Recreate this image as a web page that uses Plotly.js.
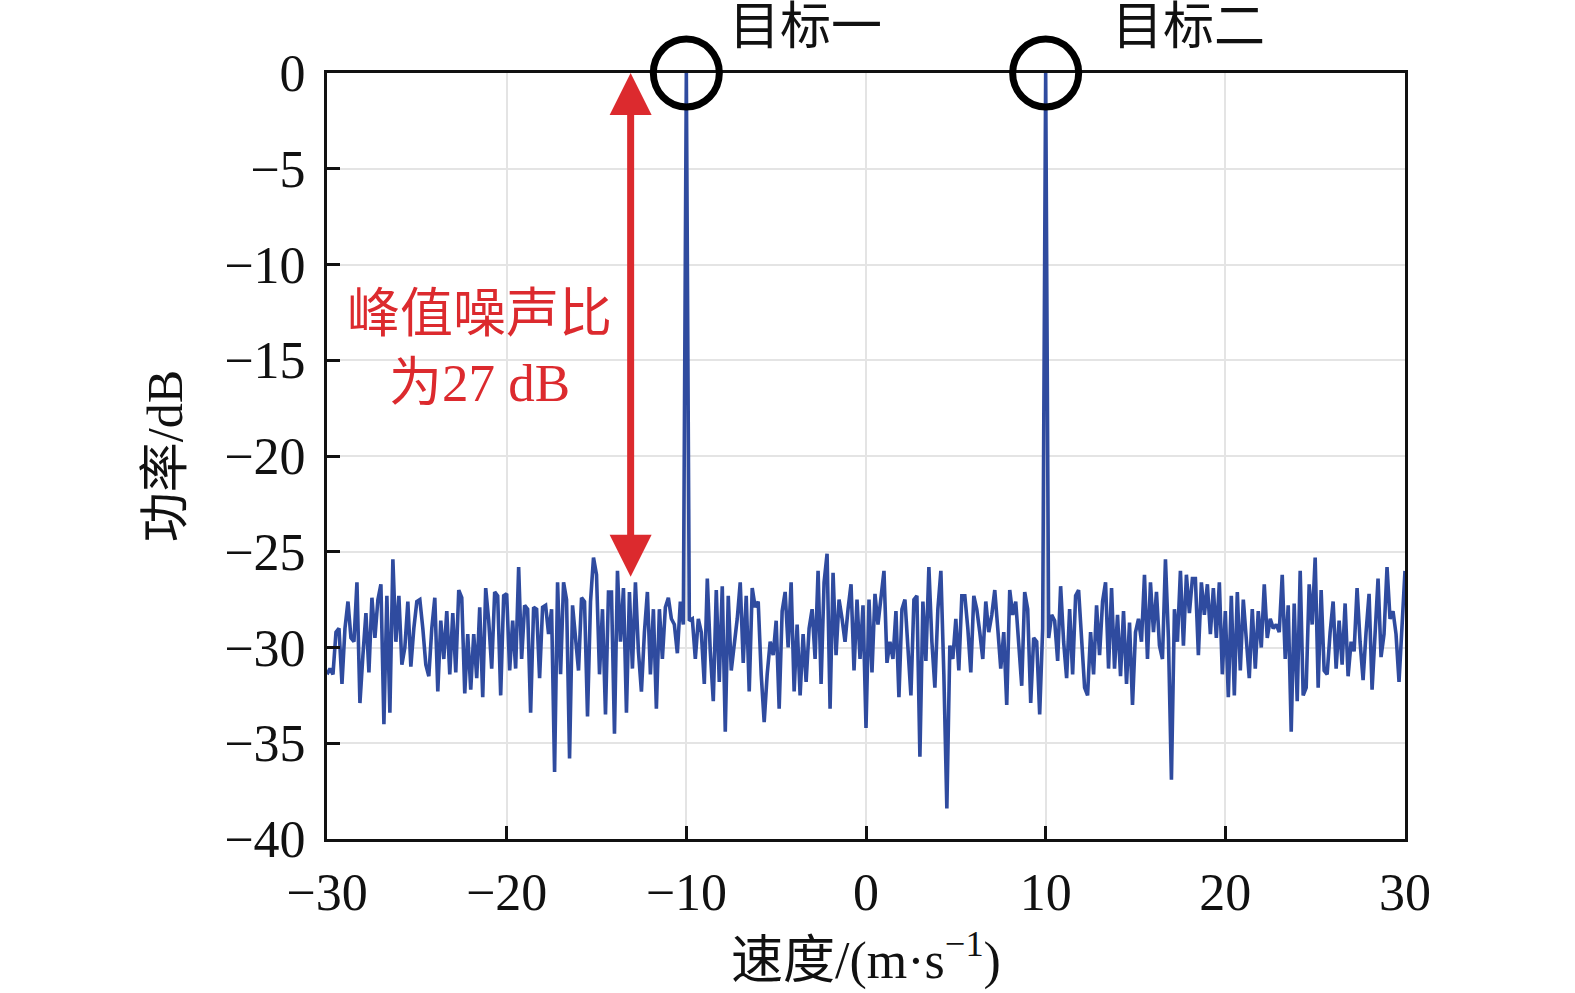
<!DOCTYPE html>
<html>
<head>
<meta charset="utf-8">
<script src="https://cdn.plot.ly/plotly-3.0.1.min.js"></script>
<style>
  body { margin: 0; background: #fff; }
  #tgtDraw { width: 1575px; height: 993px; }
</style>
</head>
<body>
<div id="tgtDraw"></div>
<script>
// velocity bins: -30 .. 30 m/s, 1/6 m/s apart
var vel_start = -30;
var vel_step = 1 / 6;

// power in dB
// -30 .. -10.17 m/s
var pwr_seg1 = [
  -31.4, -31.1, -31.4, -29.2, -29.0, -31.9, -29.0, -27.6, -29.5, -29.7,
  -26.6, -32.9, -30.4, -28.2, -31.3, -27.4, -29.5, -27.5, -26.7, -34.0,
  -27.3, -33.4, -25.4, -29.7, -27.3, -30.9, -30.0, -27.6, -31.0, -29.0,
  -27.6, -27.5, -29.0, -30.9, -31.5, -29.0, -27.4, -32.3, -28.6, -30.6,
  -28.1, -31.4, -28.2, -31.3, -27.0, -27.4, -32.4, -29.3, -32.2, -29.3,
  -31.6, -27.9, -32.6, -26.9, -28.6, -31.1, -27.1, -27.3, -32.5, -27.3,
  -27.2, -31.2, -28.6, -31.1, -25.8, -30.6, -27.8, -28.0, -33.4, -27.9,
  -28.0, -31.6, -27.9, -27.8, -29.3, -28.0, -36.5, -26.6, -31.4, -26.6,
  -27.5, -35.8, -27.8, -29.7, -31.2, -27.4, -27.6, -33.6, -27.6, -25.3,
  -26.2, -31.4, -28.0, -33.5, -27.1, -27.1, -34.5, -26.0, -29.7, -26.9,
  -33.4, -27.1, -31.1, -26.6, -30.2, -32.3, -29.2, -27.1, -31.4, -28.0,
  -33.2, -28.0, -30.6, -27.9, -27.4, -28.5, -28.8, -30.3, -27.6, -28.8
];
// -9.83 .. 9.83 m/s
var pwr_seg2 = [
  -28.6, -28.5, -30.6, -28.5, -29.2, -31.9, -26.4, -30.2, -32.8, -27.0,
  -31.8, -26.8, -34.4, -27.3, -31.2, -29.9, -28.5, -26.6, -30.8, -27.3,
  -32.3, -26.9, -27.9, -27.6, -31.4, -33.9, -31.4, -29.7, -30.4, -28.6,
  -33.2, -28.1, -27.1, -30.0, -26.6, -32.3, -28.8, -32.5, -29.3, -31.8,
  -29.0, -28.0, -30.6, -26.0, -31.9, -26.6, -25.1, -33.2, -26.1, -30.4,
  -27.5, -28.5, -29.7, -28.0, -26.7, -31.2, -27.5, -30.6, -27.8, -34.2,
  -27.5, -31.3, -27.2, -28.8, -27.3, -26.0, -30.8, -29.7, -30.6, -28.1,
  -32.6, -28.0, -27.5, -30.0, -32.5, -27.5, -27.3, -35.7, -27.6, -30.7,
  -25.8, -29.7, -32.1, -28.0, -26.0, -31.4, -38.4, -29.9, -30.6, -28.5,
  -31.2, -27.3, -27.3, -29.0, -31.3, -27.3, -28.0, -29.2, -30.6, -27.6,
  -29.2, -28.3, -27.0, -29.0, -31.1, -29.2, -33.0, -27.0, -28.3, -27.6,
  -29.7, -32.0, -27.1, -28.0, -32.9, -29.5, -29.7, -33.5, -29.0
];
// 10.17 .. 30 m/s
var pwr_seg3 = [
  -29.5, -28.3, -28.6, -30.7, -26.8, -29.7, -31.6, -28.0, -31.4, -27.3,
  -27.0, -29.5, -32.1, -32.5, -29.2, -31.4, -27.8, -30.4, -27.6, -26.6,
  -31.1, -26.9, -31.1, -28.3, -31.5, -28.1, -31.9, -28.7, -33.0, -29.2,
  -28.5, -29.7, -26.2, -30.6, -26.6, -29.2, -27.1, -29.9, -30.6, -25.4,
  -29.5, -36.9, -28.0, -29.7, -26.0, -29.9, -26.2, -28.2, -26.4, -26.4,
  -30.4, -26.6, -28.3, -26.7, -29.3, -26.9, -29.5, -26.6, -31.4,
  -28.1, -32.6, -27.3, -32.5, -27.1, -31.2, -27.5, -29.7, -31.6, -28.0,
  -31.1, -28.1, -30.0, -26.7, -29.5, -28.5, -29.0, -28.8, -29.2, -26.2,
  -30.6, -27.8, -34.4, -27.7, -32.8, -26.0, -32.5, -32.1, -26.7, -28.8,
  -25.3, -32.1, -27.0, -31.2, -31.4, -29.2, -27.6, -31.1, -28.6, -30.9,
  -27.7, -31.5, -29.7, -30.2, -26.9, -29.7, -31.7, -29.2, -27.2, -32.2,
  -28.8, -26.4, -30.5, -29.3, -25.8, -28.5, -28.1, -29.3, -31.8, -29.2, -26.0
];

// the two targets
var target_names = ["目标一", "目标二"];
var target_vel = [-10, 10];
var target_dB = [0, 0];

// peak-to-noise arrow
var snr_vel = -13.1;
var snr_top = 0;
var snr_bottom = -26.3;
var snr_text = "峰值噪声比<br>为27 dB";

var x_ticks = [-30, -20, -10, 0, 10, 20, 30];
var y_ticks = [0, -5, -10, -15, -20, -25, -30, -35, -40];

var FONT = "Liberation Serif, Times New Roman, Noto Sans CJK SC, serif";
var BLUE = "#2f4b9f";
var RED = "#dc2a2e";

function build_series()
{
	var pwr = pwr_seg1.concat([target_dB[0]], pwr_seg2, [target_dB[1]], pwr_seg3);
	var vel = [];
	for (var i = 0; i < pwr.length; i++) {
		vel.push(Math.round((vel_start + i * vel_step) * 1000) / 1000);
	}
	return {x: vel, y: pwr};
}

function draw_chart()
{
	var s = build_series();
	var trace1 = {
		x: s.x,
		y: s.y,
		type: 'scatter',
		mode: 'lines',
		line: {color: BLUE, width: 3.6},
		hoverinfo: 'skip'
	};

	// red double arrow: shaft + two heads (tips sit on the end points)
	var shaft = {
		x: [snr_vel, snr_vel],
		y: [snr_top - 1.5, snr_bottom + 1.5],
		type: 'scatter', mode: 'lines',
		line: {color: RED, width: 7},
		hoverinfo: 'skip'
	};
	var heads = {
		x: [snr_vel, snr_vel],
		y: [snr_top, snr_bottom],
		type: 'scatter', mode: 'markers',
		marker: {symbol: ['arrow-up', 'arrow-down'], size: 42, color: RED,
			line: {width: 0}},
		cliponaxis: false,
		hoverinfo: 'skip'
	};

	var shapes = [];
	var annots = [];
	var labelX = [-7.75, 13.6];
	for (var k = 0; k < target_vel.length; k++) {
		shapes.push({
			type: 'circle',
			xref: 'x', yref: 'paper',
			xsizemode: 'pixel', ysizemode: 'pixel',
			xanchor: target_vel[k], yanchor: 1,
			x0: -33, x1: 33, y0: -34, y1: 34,
			line: {color: 'black', width: 7},
			layer: 'above'
		});
		annots.push({
			x: labelX[k], y: 1.06, xref: 'x', yref: 'paper',
			xanchor: 'left', yanchor: 'middle',
			text: target_names[k], showarrow: false,
			font: {family: FONT, size: 51, color: '#111'}
		});
	}

	annots.push({
		x: -21.5, y: -14.4, xref: 'x', yref: 'y',
		xanchor: 'center', yanchor: 'middle',
		text: snr_text, showarrow: false,
		font: {family: FONT, size: 53, color: RED}
	});

	var layout = {
		width: 1575,
		height: 993,
		margin: {l: 327, r: 170, t: 73, b: 154},
		paper_bgcolor: 'white',
		plot_bgcolor: 'white',
		showlegend: false,
		font: {family: FONT, color: '#111'},
		xaxis: {
			range: [-30, 30],
			tickvals: x_ticks,
			ticks: 'inside', ticklen: 13, tickwidth: 3, tickcolor: '#111',
			showline: true, linewidth: 3, linecolor: '#111', mirror: true,
			showgrid: true, gridcolor: '#e4e4e4', gridwidth: 2,
			zeroline: false,
			ticklabelstandoff: 6,
			tickfont: {family: FONT, size: 52, color: '#111'},
			title: {text: '速度/(m·s<sup>−1</sup>)', standoff: 22,
				font: {family: FONT, size: 52, color: '#111'}}
		},
		yaxis: {
			range: [-40, 0],
			tickvals: y_ticks,
			ticks: 'inside', ticklen: 13, tickwidth: 3, tickcolor: '#111',
			showline: true, linewidth: 3, linecolor: '#111', mirror: true,
			showgrid: true, gridcolor: '#e4e4e4', gridwidth: 2,
			zeroline: false,
			ticklabelstandoff: 8,
			tickfont: {family: FONT, size: 52, color: '#111'},
			title: {text: '功率/dB', standoff: 26,
				font: {family: FONT, size: 50, color: '#111'}}
		},
		shapes: shapes,
		annotations: annots
	};

	Plotly.newPlot('tgtDraw', [trace1, shaft, heads], layout, {displayModeBar: false, staticPlot: true});
}

draw_chart();
</script>
</body>
</html>
